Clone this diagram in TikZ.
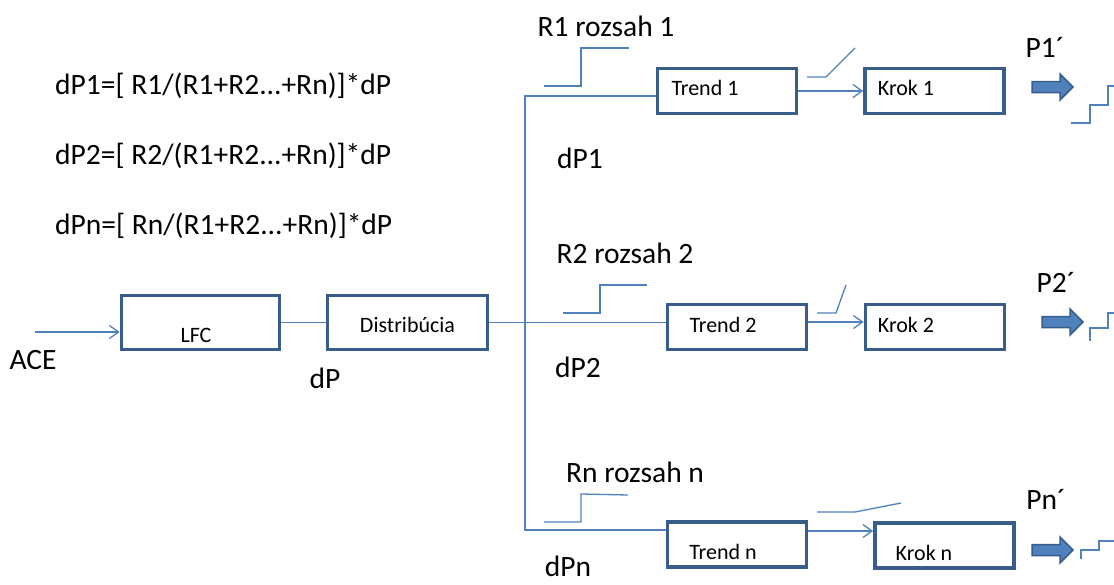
\documentclass[tikz,border=0pt]{standalone}
\usepackage{fontspec}
\setmainfont{Carlito}
\usepackage{tikz}
\usetikzlibrary{arrows.meta}
\definecolor{lineblue}{RGB}{79,129,189}
\definecolor{boxblue}{RGB}{56,93,138}
\newcommand{\fatarrow}[2]{\draw[fatarr] (#1,#2) ++(0,-5.5) -- ++(28,0) -- ++(0,-7.5) -- ++(13,13) -- ++(-13,13) -- ++(0,-7.5) -- ++(-28,0) -- cycle;}
\tikzset{
    wire/.style={lineblue, line width=1.3pt},
    box/.style={draw=boxblue, line width=3.8pt, rectangle, inner sep=0pt, minimum width=139pt, minimum height=45pt},
    widebox/.style={box, minimum width=158pt, minimum height=54pt},
    txt/.style={font=\fontsize{22}{26}\selectfont, inner sep=0pt},
    big/.style={font=\fontsize{29.5}{34}\selectfont, inner sep=0pt},
    fatarr/.style={fill=lineblue, draw=boxblue, line width=1.5pt, line join=miter},
    >={Straight Barb[length=9pt, width=13pt]}
}

\begin{document}
\begin{tikzpicture}[x=1pt, y=-1pt]
    \useasboundingbox (0,0) rectangle (1114,584);

    \node[big, anchor=base west] (f1) at (55,94) {dP1=[ R1/(R1+R2...+Rn)]*dP};
    \node[big, anchor=base west] (f2) at (55,164) {dP2=[ R2/(R1+R2...+Rn)]*dP};
    \node[big, anchor=base west] (fn) at (55,234) {dPn=[ Rn/(R1+R2...+Rn)]*dP};

    \node[widebox, label={[txt, xshift=-4.5, yshift=-12.5]center:LFC}] (lfc) at (200.5,322.5) {};
    \node[widebox, minimum width=160pt, label={[txt, yshift=-2.5]center:Distribúcia}] (dist) at (407.5,322.5) {};
    \node[box, label={[txt, xshift=-22, yshift=3]center:Trend 1}] (t1) at (727,91) {};
    \node[box, label={[txt, xshift=-28.5, yshift=3]center:Krok 1}] (k1) at (934.5,91) {};
    \node[box, label={[txt, xshift=-14, yshift=2]center:Trend 2}] (t2) at (737,327) {};
    \node[box, label={[txt, xshift=-29, yshift=2]center:Krok 2}] (k2) at (935,327) {};
    \node[box, label={[txt, xshift=-14, yshift=-7.5]center:Trend n}] (tn) at (737,544.5) {};
    \node[box, label={[txt, xshift=-20.5, yshift=-7.5]center:Krok n}] (kn) at (944.5,545.5) {};

    \node[big] (ace) at (33,360) {ACE};
    \node[big] (dp) at (325,378) {dP};
    \node[big] (r1) at (606,26) {R1 rozsah 1};
    \node[big] (r2) at (625,253) {R2 rozsah 2};
    \node[big] (rn) at (635,472) {Rn rozsah n};
    \node[big] (dp1) at (580,158) {dP1};
    \node[big] (dp2) at (578,367) {dP2};
    \node[big] (dpn) at (568,566) {dPn};
    \node[big] (p1) at (1045,47) {P1´};
    \node[big] (p2) at (1056,282) {P2´};
    \node[big] (pn) at (1046,499) {Pn´};

    \coordinate (in) at (35,332);
    \coordinate (split) at (525,322);

    \draw[wire, ->] (in) -- (in -| lfc.west);
    \draw[wire] (lfc.east) -- (dist.west);
    \draw[wire] (dist.east) -- (dist.east -| t2.west);
    \draw[wire] ([yshift=-5pt]t1.west) -| (split) |- ([yshift=14.5pt]tn.west);
    \draw[wire, ->] (t1.east) -- (k1.west);
    \draw[wire, ->] ([yshift=5pt]t2.east) -- ([yshift=5pt]k2.west);
    \draw[wire, ->] ([yshift=13.5pt]tn.east) -- ([yshift=13.5pt]tn.east -| kn.west);

    \draw[wire] (544,86) -- (581,86) -- (581,48) -- (629,48);
    \draw[wire] (807,77) -- (826,77) -- (855,48);
    \draw[wire] (1071,123) -- (1090,123) -- (1090,105) -- (1108,105) -- (1108,86) -- (1114,86);
    \draw[wire] (563,313) -- (600,313) -- (600,285) -- (647,285);
    \draw[wire] (817,313) -- (836,313) -- (846,285);
    \draw[wire] (1090,341) -- (1090,328) -- (1108,328) -- (1108,313) -- (1114,313);
    \draw[wire] (544,522) -- (581,522) -- (581,494) -- (628,495);
    \draw[wire] (817,512) -- (855,512) -- (901,503);
    \draw[wire] (1081,559) -- (1081,550) -- (1099,550) -- (1099,541) -- (1114,541);

    \fatarrow{1032}{87}
    \fatarrow{1042}{322}
    \fatarrow{1032}{550}
\end{tikzpicture}
\end{document}
